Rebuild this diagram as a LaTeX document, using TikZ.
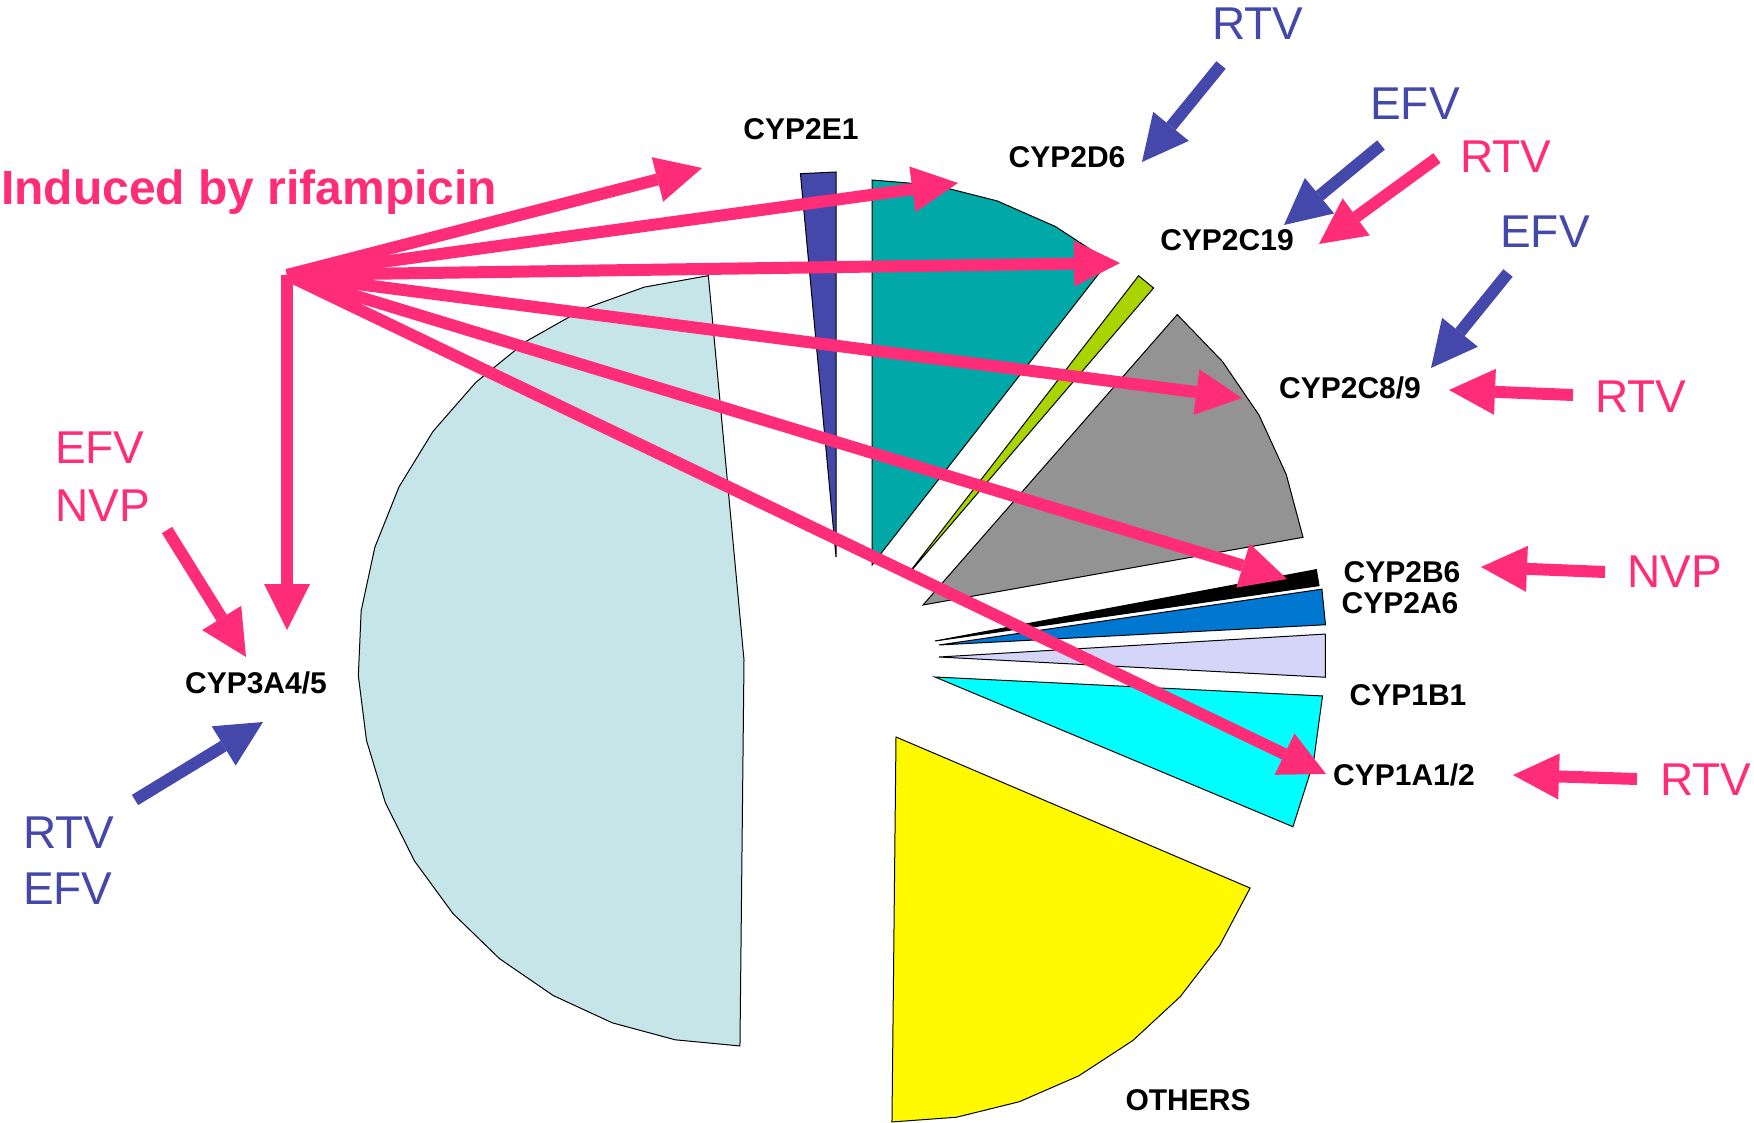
\documentclass[tikz,border=0pt]{standalone}
\usepackage{fontspec}
\setmainfont{Liberation Sans}
\usetikzlibrary{arrows.meta}
\definecolor{pinkc}{RGB}{255,45,120}
\definecolor{bluec}{RGB}{68,72,170}
\definecolor{lightb}{RGB}{197,229,232}
\definecolor{tealc}{RGB}{0,168,168}
\definecolor{greenc}{RGB}{170,212,0}
\definecolor{grayc}{RGB}{147,147,147}
\definecolor{bluea}{RGB}{0,119,208}
\definecolor{lavc}{RGB}{213,213,250}
\definecolor{cyanc}{RGB}{0,255,255}
\definecolor{yellc}{RGB}{255,250,0}
% colour, cx, cy, r, start angle, end angle, samples
\newcommand{\pieslice}[7]{%
  \filldraw[slice,fill=#1] (#2,#3) -- plot[domain=#5:#6,samples=#7] ({#2+#4*cos(\x)},{#3-#4*sin(\x)}) -- cycle;}
\begin{document}
\begin{tikzpicture}[x=1pt,y=-1pt,
  slice/.style={draw=black,line width=1pt,line join=miter},
  ind/.style={draw=pinkc,line width=12pt,-{Triangle[length=46pt,width=46pt,line width=0pt]}},
  inh/.style={draw=bluec,line width=12pt,-{Triangle[length=46pt,width=46pt,line width=0pt]}},
  cyp/.style={font=\fontsize{30}{36}\selectfont\bfseries,inner sep=0pt,anchor=base},
  drugP/.style={text=pinkc,font=\fontsize{46}{52}\selectfont,inner sep=0pt,anchor=base},
  drugB/.style={text=bluec,font=\fontsize{46}{52}\selectfont,inner sep=0pt,anchor=base}]
\useasboundingbox[fill=white] (0,0) rectangle (1754,1123);

% pie slices
\pieslice{lightb}{744}{660}{386}{95.3}{269.4}{19}
\pieslice{bluec}{836}{557}{385}{90}{95.3}{2}
\pieslice{tealc}{872}{565}{385}{52.1}{90}{5}
\pieslice{greenc}{905}{578}{382}{49.4}{52.3}{2}
\pieslice{grayc}{923}{605}{386}{10.1}{48.8}{5}
\pieslice{black}{935}{641}{388}{8.2}{10.6}{2}
\pieslice{bluea}{939}{645}{387}{3.0}{8.3}{2}
\pieslice{lavc}{939}{657}{387}{-3.0}{3.4}{2}
\pieslice{cyanc}{935}{677}{388}{-22.7}{-2.8}{3}
\pieslice{yellc}{896}{737}{385}{-90.6}{-23.1}{8}

% labels
\node[cyp] (e1) at (801,140) {CYP2E1};
\node[cyp] (d6) at (1067,168) {CYP2D6};
\node[cyp] (c19) at (1227,251) {CYP2C19};
\node[cyp] (c89) at (1350,398) {CYP2C8/9};
\node[cyp] (b6) at (1402,582) {CYP2B6};
\node[cyp] (a6) at (1400,613) {CYP2A6};
\node[cyp] (b1) at (1408,705) {CYP1B1};
\node[cyp] (a12) at (1404,785) {CYP1A1/2};
\node[cyp] (a45) at (256,693) {CYP3A4/5};
\node[cyp] (oth) at (1188,1110) {OTHERS};

\node[text=pinkc,font=\fontsize{48}{54}\selectfont\bfseries,inner sep=0pt,anchor=base west] (rif) at (1,205) {Induced by rifampicin};

\node[drugB] (rtv1) at (1258,40) {RTV};
\node[drugB] (efv1) at (1415,120) {EFV};
\node[drugP] (rtv2) at (1506,173) {RTV};
\node[drugB] (efv2) at (1545,248) {EFV};
\node[drugP] (rtv3) at (1641,412) {RTV};
\node[drugP] (nvp1) at (1675,587) {NVP};
\node[drugP] (rtv4) at (1706,795) {RTV};
\node[drugP,anchor=base west] (efv3) at (55,463) {EFV};
\node[drugP,anchor=base west] (nvp2) at (55,521) {NVP};
\node[drugB,anchor=base west] (rtv5) at (23,848) {RTV};
\node[drugB,anchor=base west] (efv4) at (23,904) {EFV};

% arrow end points
\coordinate (S) at (287,275);
\coordinate (t1) at (702,168);
\coordinate (t2) at (958,183);
\coordinate (t3) at (1120,263);
\coordinate (t4) at (1242,398);
\coordinate (t5) at (1287,579);
\coordinate (t6) at (1326,774);
\coordinate (t7) at (287,630);

\coordinate (a1s) at (1221,65);   \coordinate (a1e) at (1142,162);
\coordinate (a2s) at (1381,145);  \coordinate (a2e) at (1284,225);
\coordinate (a3s) at (1437,158);  \coordinate (a3e) at (1319,244);
\coordinate (a4s) at (1508,273);  \coordinate (a4e) at (1431,368);
\coordinate (a5s) at (1573,395);  \coordinate (a5e) at (1449,390);
\coordinate (a6s) at (1605,572);  \coordinate (a6e) at (1481,567);
\coordinate (a7s) at (1637,779);  \coordinate (a7e) at (1513,775);
\coordinate (a8s) at (167,530);   \coordinate (a8e) at (246,657);
\coordinate (a9s) at (135,800);   \coordinate (a9e) at (263,722);

% rifampicin fan
\draw[ind] (S) -- (t1);
\draw[ind] (S) -- (t2);
\draw[ind] (S) -- (t3);
\draw[ind] (S) -- (t4);
\draw[ind] (S) -- (t5);
\draw[ind] (S) -- (t6);
\draw[ind] (S) -- (t7);

% drug arrows
\draw[inh] (a1s) -- (a1e);
\draw[inh] (a2s) -- (a2e);
\draw[ind] (a3s) -- (a3e);
\draw[inh] (a4s) -- (a4e);
\draw[ind] (a5s) -- (a5e);
\draw[ind] (a6s) -- (a6e);
\draw[ind] (a7s) -- (a7e);
\draw[ind] (a8s) -- (a8e);
\draw[inh] (a9s) -- (a9e);
\end{tikzpicture}
\end{document}
